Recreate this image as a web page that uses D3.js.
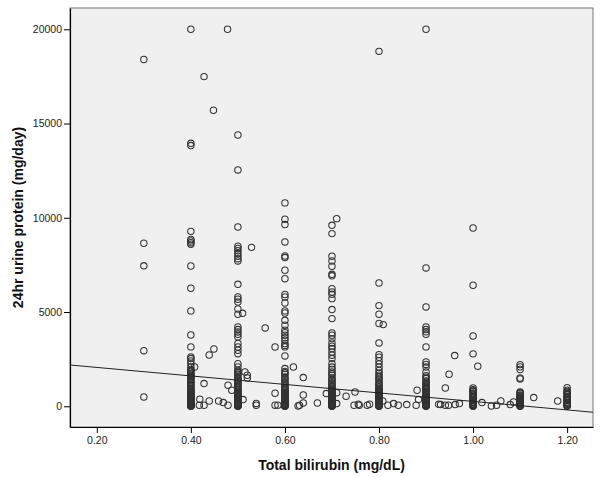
<!DOCTYPE html>
<html>
<head>
<meta charset="utf-8">
<script src="https://cdn.jsdelivr.net/npm/d3@7"></script>
<style>
  body { margin: 0; background: #fff; }
  svg { display: block; }
  .tick text { font-family: "Liberation Sans", Arial, sans-serif; font-size: 10.5px; fill: #222; }
  .title { font-family: "Liberation Sans", Arial, sans-serif; font-size: 14px; font-weight: bold; fill: #111; }
</style>
</head>
<body>
<svg width="600" height="477"></svg>
<script>
// bilirubin columns (mg/dL) and the protein values (mg/day) stacked on each
var colBili = [0.3, 0.4, 0.5, 0.6, 0.7, 0.8, 0.9, 1.0, 1.1, 1.2];
var at030 = [18400, 8650, 7450, 2950, 490];
var at040 = [20000, 13950, 13830, 9280, 8850, 8770, 8680, 8600, 7440, 6260, 5060, 3780, 3150, 2620, 2530, 2400, 2250, 2080,
  1950, 1850, 1750, 1650, 1550, 1450, 1350, 1250, 1150, 1050, 950, 850, 780, 700, 620, 550, 480, 420, 360, 300, 250, 200,
  160, 120, 90, 60, 40, 20, 10, 0, 1900, 1700, 1500, 1300, 1100, 900, 740, 660, 580, 510, 450, 390, 330, 270, 225, 180,
  140, 105, 75, 50, 30];
var at050 = [14390, 12540, 9510, 8490, 8370, 8250, 8100, 7960, 7830, 7710, 6470, 5800, 5680, 5530, 5160, 4880, 4210, 4070,
  3940, 3820, 3680, 3330, 3150, 2970, 2790, 2260, 2090, 1910, 1780, 1650, 1500, 1400, 1300, 1200, 1100, 1000, 900, 800, 700,
  620, 540, 460, 390, 320, 260, 200, 150, 110, 70, 40, 20, 0, 1850, 1700, 1450, 1250, 1050, 850, 750, 660, 580, 500, 420,
  350, 290, 230, 175, 130, 90, 55, 30, 10];
var at060 = [10790, 9920, 9640, 8720, 7970, 7890, 7215, 6770, 5930, 5800, 5480, 5060, 4950, 4560, 4300, 4040, 3900, 3770,
  3640, 3500, 3330, 3230, 3150, 2670, 2000, 1850, 1700, 1560, 1420, 1300, 1180, 1060, 950, 850, 750, 660, 570, 490, 410,
  340, 280, 220, 170, 120, 80, 50, 20, 0, 1780, 1490, 1240, 1000, 900, 800, 700, 610, 530, 450, 380, 310, 250, 195, 145,
  100, 65, 35, 10];
var at070 = [9600, 9160, 7960, 7710, 7430, 7000, 6920, 6240, 6060, 5940, 5710, 5130, 4650, 3890, 3770, 3590, 3360, 3190,
  3060, 2880, 2710, 2530, 2260, 2080, 1820, 1650, 1500, 1370, 1250, 1130, 1020, 920, 820, 730, 640, 560, 480, 410, 340,
  280, 220, 170, 120, 80, 50, 20, 0, 1950, 1730, 1430, 1190, 970, 870, 780, 690, 600, 520, 445, 375, 310, 250, 195, 145,
  100, 65, 35, 10];
var at080 = [18830, 6540, 5340, 4880, 4390, 3360, 2740, 2600, 2420, 2250, 2070, 1900, 1760, 1550, 1380, 1250, 1130, 1020,
  920, 820, 730, 640, 560, 480, 410, 340, 280, 220, 170, 120, 80, 50, 20, 0, 1650, 1450, 1190, 970, 870, 780, 690, 600,
  520, 445, 375, 310, 250, 195, 145, 100, 65, 35, 10];
var at090 = [20000, 7340, 5270, 4210, 4070, 3950, 3820, 3150, 2350, 2220, 2080, 1820, 1620, 1470, 1340, 1220, 1110, 1000,
  900, 800, 710, 620, 540, 460, 390, 320, 260, 200, 150, 100, 60, 30, 0, 1540, 1280, 1050, 950, 850, 750, 665, 580, 500,
  425, 355, 290, 230, 175, 125, 80, 45, 15];
var at100 = [9460, 6420, 3730, 2780, 970, 880, 790, 700, 600, 520, 440, 370, 300, 240, 180, 130, 90, 50, 20, 0, 830, 650,
  480, 330, 210, 110, 35];
var at110 = [2210, 2090, 1950, 1500, 1450, 760, 680, 600, 520, 450, 380, 310, 250, 190, 140, 90, 50, 20, 0, 720, 560, 410,
  280, 165, 70];
var at120 = [990, 850, 730, 620, 530, 440, 360, 290, 220, 160, 110, 60, 30, 0, 790, 670, 480, 320, 190, 85];
var colProtein = [at030, at040, at050, at060, at070, at080, at090, at100, at110, at120];

// points between the columns
var looseBili = [0.408, 0.419, 0.418, 0.428, 0.428, 0.439, 0.449, 0.439, 0.459, 0.469, 0.479, 0.479, 0.487, 0.428, 0.448,
  0.478, 0.529, 0.510, 0.558, 0.515, 0.520, 0.520, 0.511, 0.539, 0.539, 0.579, 0.618, 0.639, 0.579, 0.579, 0.585, 0.631,
  0.639, 0.639, 0.669, 0.628, 0.710, 0.688, 0.710, 0.730, 0.749, 0.747, 0.758, 0.775, 0.710, 0.756, 0.780, 0.808, 0.819,
  0.831, 0.841, 0.859, 0.881, 0.884, 0.879, 0.809, 0.961, 0.949, 0.941, 0.931, 0.941, 0.948, 0.962, 0.971, 0.927, 1.010,
  1.019, 1.039, 1.050, 1.059, 1.079, 1.086, 1.129, 1.180];
var looseProtein = [2085, 371, 53, 53, 1204, 2722, 3040, 281, 281, 196, 53, 1114, 849, 17490, 15703,
  20000, 8430, 4930, 4156, 1820, 1644, 1500, 355, 53, 150, 3146, 2085, 1523, 690, 53, 60, 53,
  600, 175, 175, 16, 9955, 674, 720, 530, 759, 53, 53, 53, 143, 106, 106, 281, 53,
  143, 53, 90, 849, 355, 53, 4332, 2690, 1697, 971, 90, 53, 53, 90, 143, 106, 2122,
  196, 16, 53, 281, 90, 228, 461, 281];

// fit line
var fitIntercept = 2511;
var fitSlope = -2254;

var xTicks = [0.2, 0.4, 0.6, 0.8, 1.0, 1.2];
var yTicks = [0, 5000, 10000, 15000, 20000];

var width = 600;
var height = 477;
var margin = {top: 8, right: 7, bottom: 50, left: 70};
var w = width - margin.left - margin.right;
var h = height - margin.top - margin.bottom;

var points = [];
colBili.forEach(function(b, i) {
  colProtein[i].forEach(function(p) { points.push({x: b, y: p}); });
});
looseBili.forEach(function(b, i) {
  points.push({x: b, y: looseProtein[i]});
});

var x = d3.scaleLinear().domain([0.143, 1.255]).range([0, w]);
var y = d3.scaleLinear().domain([-1100, 21130]).range([h, 0]);

var svg = d3.select('svg');
var g = svg.append('g')
  .attr('transform', 'translate(' + margin.left + ',' + margin.top + ')');

g.append('rect')
  .attr('width', w)
  .attr('height', h)
  .attr('fill', '#f0f0f0')
  .attr('stroke', '#777')
  .attr('stroke-width', 1);

g.append('clipPath').attr('id', 'plot')
  .append('rect').attr('width', w).attr('height', h);

g.append('g')
  .selectAll('circle')
  .data(points)
  .enter()
  .append('circle')
  .attr('cx', d => x(d.x))
  .attr('cy', d => y(d.y))
  .attr('r', 3.2)
  .attr('fill', 'none')
  .attr('stroke', '#333')
  .attr('stroke-width', 1.05);

var fitDomain = x.domain();
g.append('line')
  .attr('clip-path', 'url(#plot)')
  .attr('x1', x(fitDomain[0]))
  .attr('y1', y(fitIntercept + fitSlope * fitDomain[0]))
  .attr('x2', x(fitDomain[1]))
  .attr('y2', y(fitIntercept + fitSlope * fitDomain[1]))
  .attr('stroke', '#222')
  .attr('stroke-width', 1);

var xAxis = g.append('g')
  .attr('transform', 'translate(0,' + h + ')')
  .call(d3.axisBottom(x).tickValues(xTicks).tickFormat(d3.format('.2f')).tickSize(6).tickSizeOuter(0).tickPadding(4));

var yAxis = g.append('g')
  .call(d3.axisLeft(y).tickValues(yTicks).tickFormat(d3.format('d')).tickSize(6).tickSizeOuter(0).tickPadding(2));

[xAxis, yAxis].forEach(function(a) {
  a.select('.domain').attr('stroke', '#000').attr('stroke-width', 1.2);
  a.selectAll('.tick line').attr('stroke', '#000');
  a.attr('font-family', null).attr('font-size', null);
});

svg.append('text')
  .classed('title', true)
  .attr('x', margin.left + w / 2)
  .attr('y', 470)
  .attr('text-anchor', 'middle')
  .text('Total bilirubin (mg/dL)');

svg.append('text')
  .classed('title', true)
  .attr('transform', 'translate(23,' + (margin.top + h / 2) + ') rotate(-90)')
  .attr('text-anchor', 'middle')
  .text('24hr urine protein (mg/day)');
</script>
</body>
</html>
